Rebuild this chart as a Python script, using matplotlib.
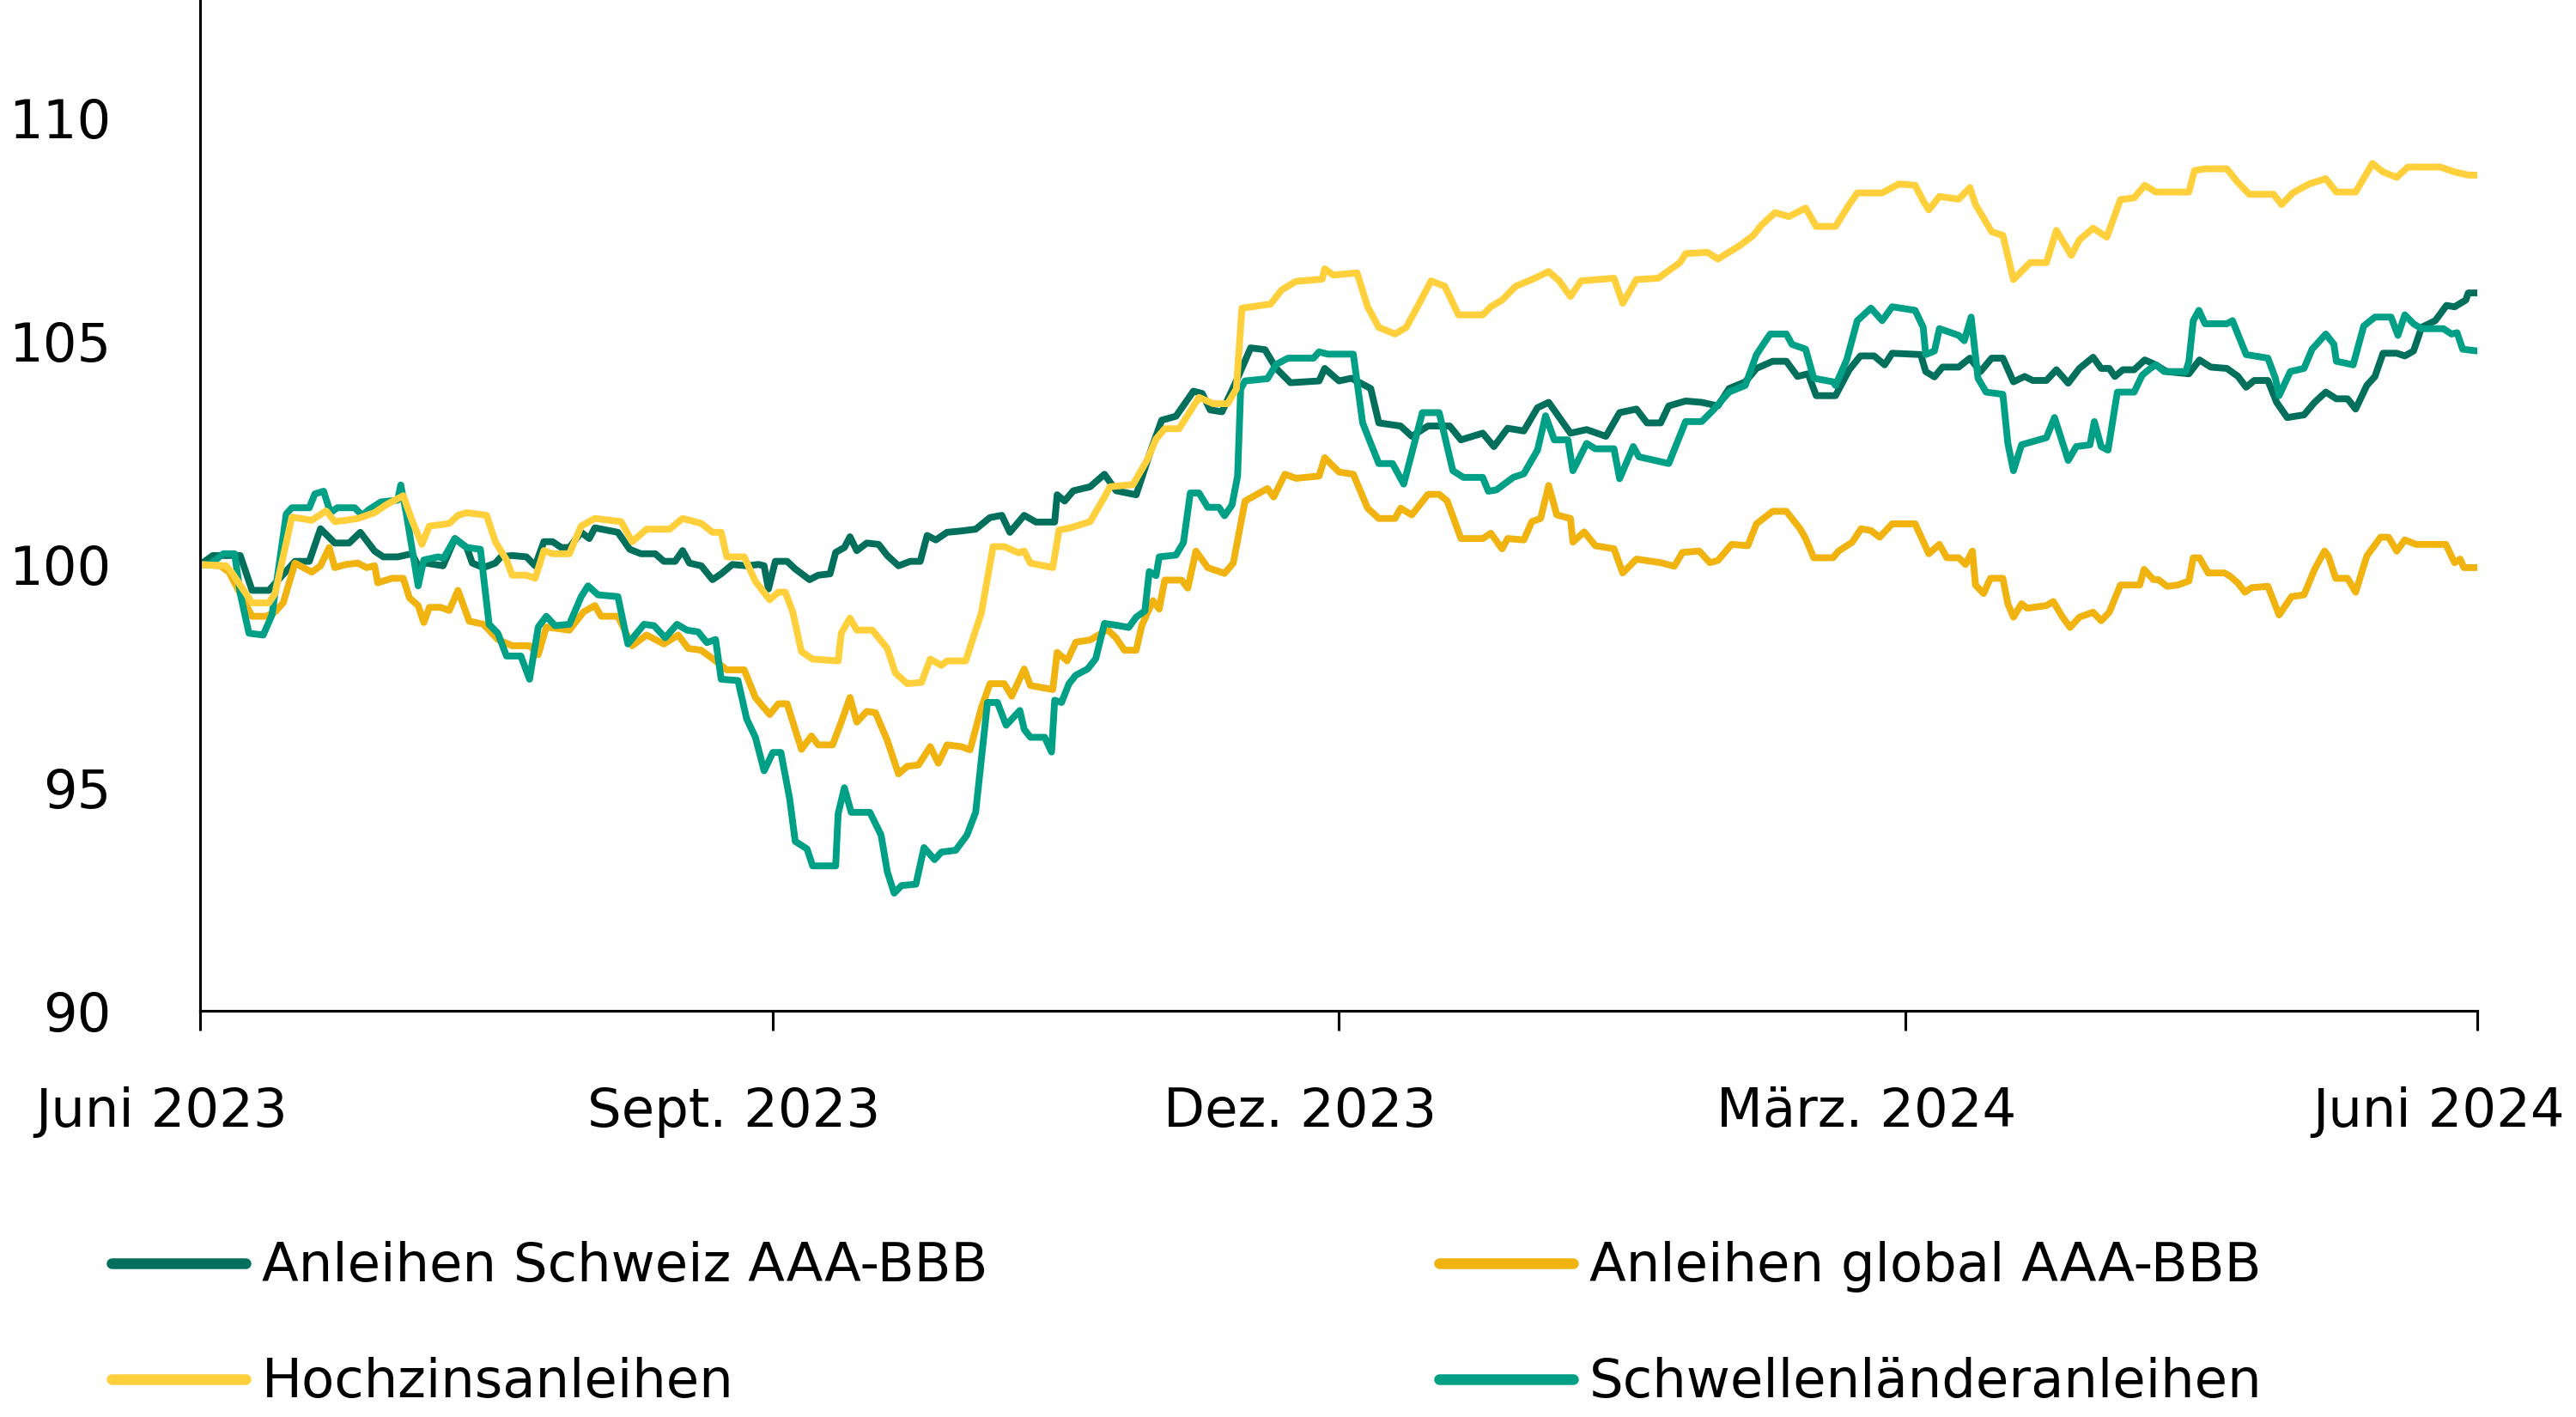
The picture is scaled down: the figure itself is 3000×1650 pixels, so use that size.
import matplotlib
matplotlib.use("Agg")
import matplotlib.pyplot as plt
from matplotlib.transforms import ScaledTranslation
import pandas as pd

plt.rcParams['font.family'] = ['DejaVu Sans']

START = pd.Timestamp("2023-06-01")

# days since 1 June 2023 and index values
schweiz_days = [0, 2, 6.4, 8.3, 11, 15.2, 17.5, 19.3, 21.6, 23.9, 25.7, 28, 29.4, 31.7, 34, 35, 36.3, 39, 40.9, 42.8,
                43.7, 45.5, 47.4, 48.3, 50.1, 52.4, 53.8, 55.2, 56.6, 58, 59.3, 61.2, 62.5, 63.4, 67.1, 69, 70.8, 73.1,
                74.5, 76.3, 77.5, 78.6, 80.5, 82.3, 83.7, 85.5, 87.8, 89.7, 90.6, 91.3, 92.4, 94.3, 95.6, 97.9, 99.3,
                101.2, 102.1, 103.5, 104.4, 105.5, 107.1, 109, 110.4, 112.2, 114.1, 115.7, 116.8, 118.2, 120, 122.3,
                124.6, 126.9, 128.8, 130.1, 132.4, 134.3, 137.3, 137.7, 138.9, 140.3, 143, 145.3, 147.2, 150.4, 152.7,
                154.5, 156.8, 159.6, 161, 162.3, 164.2, 166.5, 168.8, 171.1, 172.9, 175.2, 179.8, 180.7, 183, 185,
                188.1, 189.4, 192.9, 194.7, 197.3, 200.8, 202.6, 206.1, 207.9, 210.1, 212.7, 214.9, 216.7, 220.2,
                222.8, 225.9, 228.1, 230.8, 232.5, 234.7, 236, 238.7, 241.3, 243.9, 245.7, 248.3, 250.1, 252.7, 254.9,
                256.7, 258.4, 259.7, 262.8, 265, 266.8, 269, 270.7, 271.9, 276.5, 277.3, 278.7, 280, 282.6, 284.4,
                286.1, 287.9, 289.7, 291.4, 293.2, 294.5, 296.7, 298.3, 300.2, 302, 304.2, 305.5, 306.8, 307.7, 309,
                310.8, 312.5, 314.3, 316, 319.6, 321.3, 323.1, 325.7, 327.5, 328.8, 330.1, 332.3, 333.7, 335.4, 338.1,
                339.8, 341.6, 343.3, 345.1, 346.4, 348.2, 349.5, 350.8, 353, 354.3, 355.7, 357, 359.2, 361, 362.3,
                364.1, 364.5, 366]
schweiz_vals = [100.0, 100.2, 100.2, 99.42, 99.42, 100.07, 100.07, 100.8, 100.48, 100.48, 100.72, 100.3, 100.17,
                100.17, 100.24, 99.97, 100.03, 99.97, 100.58, 100.38, 100.03, 99.93, 100.03, 100.17, 100.2, 100.17,
                99.97, 100.51, 100.51, 100.38, 100.38, 100.72, 100.58, 100.82, 100.72, 100.34, 100.24, 100.24, 100.07,
                100.07, 100.31, 100.03, 99.97, 99.66, 99.79, 100.0, 99.97, 100.0, 99.97, 99.45, 100.07, 100.07, 99.9,
                99.66, 99.76, 99.79, 100.27, 100.38, 100.62, 100.31, 100.48, 100.45, 100.2, 99.97, 100.07, 100.07,
                100.65, 100.55, 100.72, 100.75, 100.79, 101.05, 101.1, 100.72, 101.1, 100.95, 100.95, 101.56, 101.42,
                101.65, 101.74, 102.02, 101.65, 101.56, 102.53, 103.23, 103.32, 103.88, 103.83, 103.46, 103.42,
                104.11, 104.85, 104.81, 104.39, 104.07, 104.11, 104.39, 104.11, 104.17, 103.94, 103.17, 103.1,
                102.87, 103.1, 103.1, 102.79, 102.94, 102.64, 103.05, 102.99, 103.51, 103.63, 102.94, 103.02, 102.87,
                103.4, 103.48, 103.17, 103.17, 103.55, 103.66, 103.63, 103.55, 103.94, 104.09, 104.39, 104.55, 104.55,
                104.21, 104.27, 103.78, 103.78, 104.36, 104.67, 104.67, 104.47, 104.73, 104.7, 104.32, 104.2, 104.42,
                104.42, 104.62, 104.32, 104.62, 104.62, 104.09, 104.21, 104.12, 104.12, 104.36, 104.06, 104.39,
                104.64, 104.39, 104.39, 104.21, 104.36, 104.36, 104.58, 104.47, 104.32, 104.27, 104.58, 104.42,
                104.39, 104.21, 103.97, 104.12, 104.12, 103.63, 103.29, 103.35, 103.63, 103.86, 103.71, 103.71,
                103.48, 104.01, 104.21, 104.73, 104.73, 104.67, 104.78, 105.31, 105.46, 105.8, 105.77, 105.92,
                106.08, 106.08]

global_days = [0, 3.2, 4.6, 8.3, 10.6, 12, 13.3, 15.2, 17.9, 19.3, 20.7, 21.6, 23.4, 25.3, 26.7, 28, 28.5, 30.8, 32.6,
               33.6, 35, 35.9, 36.8, 38.6, 40, 41.4, 43.2, 45.5, 47.8, 50.1, 52.9, 54.3, 55.6, 59.3, 61.6, 63.4, 64.4,
               67.1, 69.4, 71.7, 74.5, 76.8, 78.4, 80.5, 82.8, 84.6, 87.4, 89.2, 91.5, 92.9, 94.3, 96.6, 98.2, 99.3,
               101.6, 103, 104.4, 105.5, 107.1, 108.5, 110.4, 112.2, 113.6, 115.4, 117.3, 118.6, 120, 122.3, 123.7,
               125.5, 126.9, 129.2, 130.4, 132.4, 133.4, 137, 137.7, 139.3, 140.7, 143, 145.8, 147.2, 148.5, 150.4,
               151.3, 153.1, 154.1, 155, 157.7, 158.7, 160, 161.9, 164.6, 166, 167.9, 171.5, 172.5, 174.3, 176.1,
               179.8, 180.7, 183, 185.3, 187.6, 189.4, 192, 192.9, 194.7, 197.3, 199.1, 200.4, 202.6, 206.1, 207.4,
               209.2, 210.1, 212.7, 214, 215.4, 216.7, 218, 220.2, 220.6, 222.4, 224.2, 227.2, 228.6, 230.8, 234.7,
               236.9, 238.2, 240.9, 242.6, 243.9, 246.1, 248.7, 250.1, 252.7, 254.9, 257.1, 258, 259.3, 262.4, 263.3,
               265.5, 266.9, 268.5, 269.9, 271.9, 275.6, 277.8, 279.5, 280.7, 282.6, 283.7, 284.8, 285.3, 286.6,
               287.7, 289.7, 290.5, 291.4, 292.7, 293.6, 296.7, 297.8, 299.3, 300.5, 302, 304.2, 305.5, 306.8, 308.6,
               311.7, 312.4, 313.9, 314.7, 316.1, 317.8, 319.6, 320.3, 321.3, 322.7, 325.3, 326.2, 327.5, 328.6,
               329.7, 332.3, 334.1, 336.1, 338.1, 339.8, 341.4, 342, 343.2, 345.1, 346.4, 348.2, 350.4, 351.7, 353,
               354.3, 356.1, 360.9, 362.3, 363.2, 363.8, 366]
global_vals = [100.0, 99.97, 99.83, 98.84, 98.84, 98.94, 99.14, 100.03, 99.83, 99.97, 100.38, 99.93, 100.0, 100.03,
               99.93, 99.97, 99.59, 99.69, 99.69, 99.25, 99.08, 98.7, 99.04, 99.04, 98.97, 99.42, 98.73, 98.66, 98.32,
               98.18, 98.18, 97.98, 98.6, 98.53, 98.94, 99.08, 98.84, 98.84, 98.18, 98.42, 98.22, 98.42, 98.12, 98.08,
               97.84, 97.64, 97.64, 97.02, 96.64, 96.88, 96.88, 95.86, 96.16, 95.96, 95.96, 96.47, 97.02, 96.47,
               96.71, 96.68, 96.06, 95.31, 95.48, 95.51, 95.92, 95.55, 95.96, 95.92, 95.85, 96.78, 97.33, 97.33,
               97.05, 97.66, 97.29, 97.2, 98.03, 97.84, 98.26, 98.31, 98.54, 98.35, 98.08, 98.08, 98.63, 99.19, 99.0,
               99.65, 99.65, 99.47, 100.3, 99.93, 99.8, 100.03, 101.42, 101.7, 101.51, 102.02, 101.93, 101.98,
               102.39, 102.07, 102.02, 101.26, 101.03, 101.03, 101.26, 101.11, 101.57, 101.57, 101.42, 100.58,
               100.58, 100.7, 100.35, 100.58, 100.55, 100.96, 101.03, 101.77, 101.11, 101.03, 100.5, 100.73, 100.42,
               100.35, 99.81, 100.12, 100.04, 99.96, 100.27, 100.3, 100.04, 100.09, 100.45, 100.42, 100.91, 101.19,
               101.19, 100.8, 100.58, 100.15, 100.15, 100.3, 100.5, 100.8, 100.76, 100.61, 100.91, 100.91, 100.24,
               100.45, 100.15, 100.15, 100.0, 100.3, 99.54, 99.35, 99.69, 99.69, 99.12, 98.82, 99.12, 99.02, 99.08,
               99.17, 98.82, 98.59, 98.82, 98.93, 98.74, 98.93, 99.54, 99.54, 99.89, 99.66, 99.66, 99.51, 99.54,
               99.63, 100.15, 100.15, 99.81, 99.81, 99.74, 99.58, 99.38, 99.48, 99.51, 98.87, 99.28, 99.32, 99.89,
               100.3, 100.19, 99.69, 99.69, 99.38, 100.19, 100.61, 100.61, 100.3, 100.55, 100.45, 100.45, 100.04,
               100.12, 99.93, 99.93]

hochzins_days = [0, 4.1, 5, 8.3, 11, 12, 14.7, 17.9, 20.2, 21.6, 23.4, 25.3, 28, 29.9, 32.6, 34, 35.6, 36.8, 38.6, 40,
                 41.4, 42.8, 46, 47.4, 49.2, 50.1, 52.4, 53.8, 55.2, 56.6, 59.3, 61.2, 63.4, 67.6, 69.4, 71.7, 75.4,
                 77.5, 80.5, 82.3, 83.7, 84.6, 87.4, 89.2, 91.5, 92.9, 94, 95.2, 96.6, 98.4, 102.5, 103, 104.4, 105.5,
                 108, 110.4, 111.7, 113.6, 115.9, 117.3, 119.1, 120, 123, 124.6, 125.5, 127.4, 129.2, 131.5, 132.4,
                 133.4, 137, 138, 139.8, 143, 145.3, 146.2, 149.9, 152.2, 153.6, 155, 157.3, 160.5, 162.8, 165.1,
                 166.5, 167.4, 172, 173.8, 176.1, 180.3, 180.7, 182.1, 185.9, 187.6, 189.4, 192, 193.8, 195.6, 197.8,
                 200, 202.2, 206.1, 207.4, 209.2, 211.4, 214, 216.7, 218.4, 220.2, 221.9, 227.2, 228.6, 230.8, 234.3,
                 237.8, 238.7, 242.2, 243.9, 247.4, 249.6, 250.9, 253.1, 255.3, 258, 259.7, 262.8, 265, 266.3, 270.3,
                 273, 275.6, 276.9, 277.8, 279.5, 282.6, 284.4, 285.3, 287.9, 289.7, 291.4, 294.1, 296.7, 298.3,
                 300.7, 302, 304.2, 306.4, 308.6, 310.8, 312.5, 314.3, 319.6, 320.5, 322.2, 325.7, 327.5, 329.3,
                 333.2, 334.5, 336.3, 338.9, 341.6, 343.3, 346.4, 349.1, 350.8, 353, 354.8, 360, 362.3, 364.5, 366]
hochzins_vals = [100.0, 99.97, 99.83, 99.14, 99.14, 99.35, 101.06, 100.99, 101.2, 100.96, 100.99, 101.03, 101.16,
                 101.34, 101.54, 100.99, 100.45, 100.86, 100.89, 100.92, 101.1, 101.16, 101.1, 100.51, 100.1, 99.76,
                 99.76, 99.69, 100.31, 100.24, 100.24, 100.86, 101.03, 100.96, 100.51, 100.79, 100.79, 101.03,
                 100.92, 100.72, 100.72, 100.17, 100.17, 99.62, 99.21, 99.38, 99.38, 98.94, 98.05, 97.88, 97.84,
                 98.46, 98.8, 98.53, 98.53, 98.12, 97.57, 97.33, 97.36, 97.88, 97.74, 97.84, 97.84, 98.53, 98.9,
                 100.4, 100.4, 100.26, 100.3, 100.03, 99.93, 100.77, 100.82, 100.96, 101.51, 101.74, 101.79, 102.35,
                 102.81, 103.04, 103.04, 103.74, 103.6, 103.6, 103.93, 105.74, 105.83, 106.15, 106.34, 106.39,
                 106.62, 106.48, 106.53, 105.77, 105.31, 105.16, 105.31, 105.77, 106.35, 106.23, 105.59, 105.59,
                 105.77, 105.92, 106.23, 106.38, 106.56, 106.35, 106.0, 106.35, 106.41, 105.85, 106.38, 106.41,
                 106.76, 106.96, 106.99, 106.84, 107.14, 107.37, 107.6, 107.88, 107.79, 107.98, 107.57, 107.57,
                 108.06, 108.32, 108.32, 108.52, 108.49, 108.14, 107.94, 108.24, 108.18, 108.44, 108.06, 107.45,
                 107.37, 106.38, 106.76, 106.76, 107.48, 106.92, 107.27, 107.53, 107.33, 108.17, 108.21, 108.49,
                 108.34, 108.34, 108.82, 108.86, 108.86, 108.55, 108.29, 108.29, 108.06, 108.32, 108.52, 108.64,
                 108.34, 108.34, 108.98, 108.79, 108.67, 108.9, 108.9, 108.79, 108.72, 108.72]

schwellen_days = [0, 1.5, 3.7, 5.5, 6.4, 7.8, 10.1, 11.5, 13.8, 14.7, 17.5, 18.4, 19.8, 20.9, 22, 24.8, 26, 27.1, 29,
                  31.7, 32.2, 33.1, 35, 35.9, 38.2, 39.1, 40.9, 42.8, 45, 46.4, 47.8, 49.2, 51.5, 52.9, 54.3, 55.6,
                  57, 59.3, 61.2, 62.3, 63.9, 67.1, 68.7, 71.3, 72.9, 74.7, 76.6, 78.2, 80, 81.4, 82.8, 83.7, 86.4,
                  87.8, 89.2, 90.6, 92, 93.3, 94.7, 95.6, 97.5, 98.4, 102.1, 102.5, 103.5, 104.6, 107.6, 109.4, 110.4,
                  111.5, 112.7, 115, 116.3, 118, 119.1, 121.4, 123.2, 124.6, 126.5, 128.1, 129.5, 131.7, 132.4, 133.4,
                  135.7, 136.8, 137.3, 138.4, 139.6, 140.7, 142.6, 143.9, 145.3, 147.6, 149.2, 150.4, 151.8, 152.5,
                  153.6, 154.1, 156.8, 158, 159.1, 160.5, 161.9, 163.7, 164.6, 165.8, 166.7, 167.2, 167.9, 171.5,
                  172.9, 174.8, 178.9, 179.8, 181.2, 185.3, 186.8, 188.1, 189.4, 191.6, 193.4, 195.1, 196.4, 199.1,
                  201.3, 203, 206.1, 207, 208.3, 211, 212.7, 214.9, 216.2, 217.6, 219.8, 220.6, 222.8, 224.2, 227.2,
                  228.1, 230.3, 231.2, 236, 238.7, 241.3, 243.1, 245.7, 248.3, 250.1, 252.3, 254.9, 255.8, 258, 259.3,
                  262.4, 262.8, 264.6, 266.3, 268.5, 270.3, 271.9, 275.6, 276.9, 277.3, 278.7, 279.5, 282.6, 283.5,
                  284.6, 285.7, 287, 289.7, 290.5, 291.4, 292.7, 296.7, 298, 300.2, 301.5, 303.7, 304.4, 305.5, 306.6,
                  308.1, 310.8, 312.1, 313.4, 314.3, 315.6, 319.1, 319.6, 320.3, 321.2, 322.2, 325.7, 326.6, 328.8,
                  332.3, 333.5, 334.1, 335.9, 338.1, 339.4, 341.6, 342.9, 343.3, 346, 347.7, 349.5, 352.1, 353.2,
                  354.3, 355.7, 357, 360.5, 361.8, 362.7, 363.6, 366]
schwellen_vals = [100.0, 100.0, 100.24, 100.24, 99.35, 98.46, 98.42, 98.87, 101.13, 101.27, 101.27, 101.58, 101.64,
                  101.16, 101.27, 101.27, 101.1, 101.23, 101.4, 101.44, 101.78, 101.13, 99.52, 100.1, 100.17, 100.14,
                  100.58, 100.38, 100.34, 98.66, 98.46, 97.95, 97.95, 97.43, 98.6, 98.84, 98.63, 98.66, 99.28, 99.52,
                  99.32, 99.28, 98.22, 98.66, 98.63, 98.36, 98.66, 98.53, 98.49, 98.25, 98.32, 97.43, 97.4, 96.54,
                  96.13, 95.38, 95.79, 95.79, 94.76, 93.8, 93.63, 93.25, 93.25, 94.42, 95.0, 94.45, 94.45, 93.94,
                  93.12, 92.64, 92.81, 92.84, 93.66, 93.39, 93.56, 93.6, 93.94, 94.45, 96.91, 96.91, 96.4, 96.73,
                  96.31, 96.13, 96.13, 95.8, 96.96, 96.91, 97.33, 97.52, 97.66, 97.89, 98.68, 98.63, 98.59, 98.82,
                  98.96, 99.84, 99.75, 100.17, 100.21, 100.49, 101.6, 101.6, 101.28, 101.28, 101.09, 101.33, 101.98,
                  103.93, 104.11, 104.16, 104.48, 104.62, 104.62, 104.76, 104.71, 104.71, 103.17, 102.71, 102.26,
                  102.26, 101.8, 102.71, 103.4, 103.4, 102.1, 101.95, 101.95, 101.64, 101.67, 101.95, 102.03, 102.56,
                  103.33, 102.79, 102.79, 102.1, 102.71, 102.59, 102.59, 101.92, 102.64, 102.41, 102.26, 103.2,
                  103.2, 103.45, 103.86, 104.01, 104.7, 105.16, 105.16, 104.93, 104.82, 104.17, 104.09, 104.01,
                  104.58, 105.46, 105.74, 105.46, 105.77, 105.69, 105.31, 104.7, 104.78, 105.28, 105.13, 105.01,
                  105.54, 104.17, 103.86, 103.81, 102.71, 102.1, 102.68, 102.84, 103.29, 102.33, 102.64, 102.68,
                  103.2, 102.64, 102.56, 103.86, 103.86, 104.24, 104.39, 104.47, 104.32, 104.32, 104.55, 105.46,
                  105.69, 105.39, 105.39, 105.46, 104.7, 104.62, 104.17, 103.78, 104.32, 104.39, 104.82, 105.16,
                  104.93, 104.55, 104.47, 105.34, 105.54, 105.54, 105.13, 105.59, 105.39, 105.28, 105.28, 105.16,
                  105.19, 104.82, 104.78]

tick_dates = ["2023-06-01", "2023-09-01", "2023-12-01", "2024-03-01", "2024-06-01"]
tick_labels = ["Juni 2023", "Sept. 2023", "Dez. 2023", "März. 2024", "Juni 2024"]
y_ticks = [90, 95, 100, 105, 110]


def to_dates(days):
    return START + pd.to_timedelta(days, unit="D")


# drawing order: bottom to top
series = [
    ("Anleihen Schweiz AAA-BBB", schweiz_days, schweiz_vals, "#006F5B"),
    ("Anleihen global AAA-BBB", global_days, global_vals, "#F0B30F"),
    ("Schwellenländeranleihen", schwellen_days, schwellen_vals, "#00A086"),
    ("Hochzinsanleihen", hochzins_days, hochzins_vals, "#FFD03C"),
]

fig = plt.figure(figsize=(20, 11), dpi=150)
ax = fig.add_axes([0.0778, 0.2865, 0.884, 0.7135])

lines = {}
for name, days, vals, color in series:
    ln, = ax.plot(to_dates(days), vals, color=color, lw=3.8, label=name,
                  solid_joinstyle="round", solid_capstyle="round")
    lines[name] = ln

ax.set_xlim(pd.Timestamp(tick_dates[0]), pd.Timestamp(tick_dates[-1]))
ax.set_ylim(90, 112.64)
ax.set_xticks(pd.to_datetime(tick_dates))
ax.set_xticklabels(tick_labels)
ax.set_yticks(y_ticks)

for side in ["top", "right"]:
    ax.spines[side].set_visible(False)
for side in ["left", "bottom"]:
    ax.spines[side].set_linewidth(1.5)
    ax.spines[side].set_color("black")

ax.tick_params(axis="y", length=0, pad=50, labelsize=30)
ax.tick_params(axis="x", length=11, width=1.5, pad=31, labelsize=30)

# month labels sit a little left of their ticks
shift = ScaledTranslation(-0.3, 0, fig.dpi_scale_trans)
for lab in ax.get_xticklabels():
    lab.set_transform(lab.get_transform() + shift)

# legend in two columns, placed as two single-column legends
leg_kw = dict(loc="upper left", frameon=False, fontsize=30, handlelength=2.5, handletextpad=0.3,
              labelspacing=1.2, borderpad=0, borderaxespad=0)
leg1 = fig.legend(handles=[lines["Anleihen Schweiz AAA-BBB"], lines["Hochzinsanleihen"]],
                  bbox_to_anchor=(0.0434, 0.124), **leg_kw)
leg2 = fig.legend(handles=[lines["Anleihen global AAA-BBB"], lines["Schwellenländeranleihen"]],
                  bbox_to_anchor=(0.5587, 0.124), **leg_kw)
for leg in (leg1, leg2):
    for h in leg.get_lines():
        h.set_linewidth(6)

fig.savefig("out.png", dpi=150)
